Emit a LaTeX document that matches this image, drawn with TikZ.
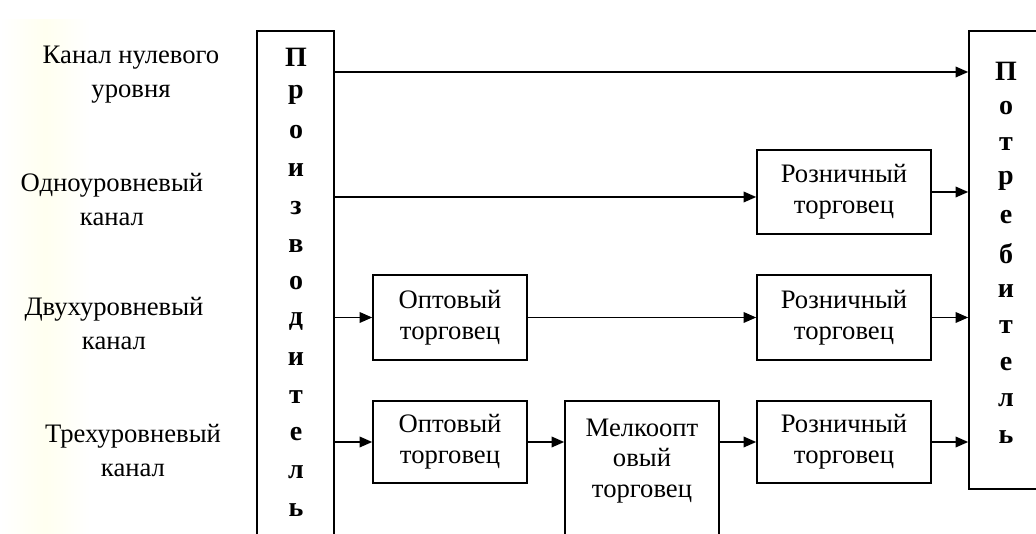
\documentclass[tikz,border=0pt]{standalone}
\usepackage{fontspec}
\setmainfont{Liberation Serif}
\usetikzlibrary{arrows.meta}
\begin{document}
\begin{tikzpicture}[x=0.75pt,y=-0.75pt,
  box/.style={draw,line width=1.2pt,inner sep=0pt,align=center,font=\fontsize{20}{23}\selectfont},
  lbl/.style={align=center,inner sep=0pt,font=\fontsize{20}{25.5}\selectfont},
  vlet/.style={inner sep=0pt,font=\fontsize{21}{21}\selectfont\bfseries},
  arr/.style={line width=1.2pt,-{Triangle[length=9.5pt,width=8pt]}}]
\clip (0,0) rectangle (1036,534);
\fill[white] (0,0) rectangle (1036,534);
\shade[left color=white,right color=white,middle color=yellow!6] (0,20) rectangle (90,534);
% big boxes
\node[box,minimum width=77*0.75pt,minimum height=540*0.75pt] (prod) at (295.5,301) {};
\node[box,minimum width=80*0.75pt,minimum height=458*0.75pt] (cons) at (1009,260) {};
\foreach \l [count=\i from 0] in {П,р,о,и,з,в,о,д,и,т,е,л,ь}
  \node[vlet] (pl\i) at (296,57+37.75*\i) {\l};
\foreach \l [count=\i from 0] in {П,о,т,р,е,б,и,т,е,л,ь}
  \node[vlet] (cl\i) at (1006,71+36.6*\i) {\l};
% intermediate boxes
\node[box,minimum width=154*0.75pt,minimum height=85*0.75pt] (opt1) at (450,317.5) {Оптовый\\торговец};
\node[box,minimum width=154*0.75pt,minimum height=82*0.75pt] (opt2) at (450,442) {Оптовый\\торговец};
\node[box,minimum width=154*0.75pt,minimum height=150*0.75pt] (melk) at (642,476) {};
\node[font=\fontsize{20}{23}\selectfont,align=center,inner sep=0pt] (melkt) at (642,461) {Мелкоопт\\овый\\торговец};
\node[box,minimum width=174*0.75pt,minimum height=84*0.75pt] (ret1) at (844,192) {Розничный\\торговец};
\node[box,minimum width=174*0.75pt,minimum height=85*0.75pt] (ret2) at (844,317.5) {Розничный\\торговец};
\node[box,minimum width=174*0.75pt,minimum height=82*0.75pt] (ret3) at (844,442) {Розничный\\торговец};
% left labels
\node[lbl] (l0) at (131,75) {Канал нулевого\\уровня};
\node[lbl] (l1) at (112,200) {Одноуровневый\\канал};
\node[lbl] (l2) at (114,324) {Двухуровневый\\канал};
\node[lbl] (l3) at (133,451) {Трехуровневый\\канал};
% connectors
\coordinate (r0) at (0,72);
\coordinate (r1) at (0,197);
\draw[arr] (prod.east |- r0) -- (cons.west |- r0);
\draw[arr] (prod.east |- r1) -- (ret1.west |- r1);
\draw[arr] (ret1.east) -- (cons.west |- ret1.east);
\draw[arr] (prod.east |- opt1.west) -- (opt1.west);
\draw[arr] (opt1.east) -- (ret2.west);
\draw[arr] (ret2.east) -- (cons.west |- ret2.east);
\draw[arr] (prod.east |- opt2.west) -- (opt2.west);
\draw[arr] (opt2.east) -- (melk.west |- opt2.east);
\draw[arr] (melk.east |- ret3.west) -- (ret3.west);
\draw[arr] (ret3.east) -- (cons.west |- ret3.east);
\end{tikzpicture}
\end{document}
